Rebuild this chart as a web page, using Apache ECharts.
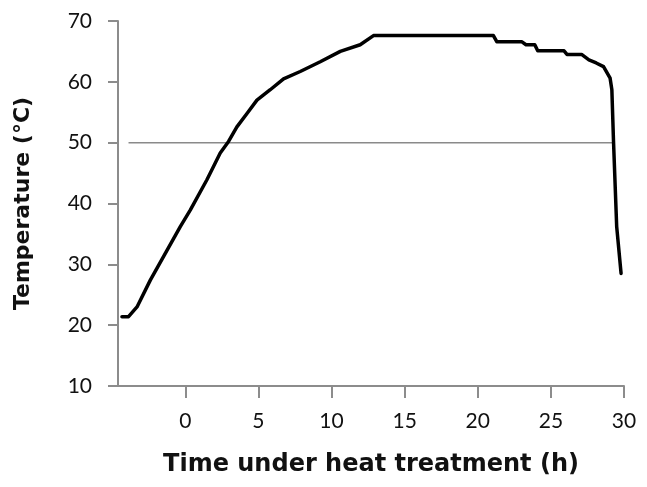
<!DOCTYPE html>
<html lang="en">
<head>
    <meta charset="UTF-8">
    <title>Temperature under heat treatment</title>
    <script src="https://cdn.jsdelivr.net/npm/echarts@6/dist/echarts.min.js"></script>
    <style>
        html,body{margin:0;padding:0;background:#fff}
        #main{width:647px;height:487px}
    </style>
</head>
<body>
<div id="main"></div>
<script>
    // time (h) and temperature (°C)
    var timeH = [-4.33, -3.88, -3.3, -2.39, -1.48, -0.34, 0.34, 1.48, 1.71, 2.39, 2.96, 3.53, 4.22, 4.9,
        5.81, 6.72, 7.86, 9.23, 10.6, 11.96, 12.87, 21.07, 21.3, 23.0, 23.3, 23.9, 24.1, 25.9,
        26.1, 27.1, 27.6, 28.1, 28.6, 29.05, 29.17, 29.28, 29.5, 29.8];
    var tempC = [21.4, 21.4, 23.0, 27.4, 31.3, 36.2, 38.9, 43.9, 45.0, 48.3, 50.2, 52.6, 54.8, 57.0,
        58.7, 60.5, 61.7, 63.3, 65.0, 66.1, 67.6, 67.6, 66.6, 66.6, 66.1, 66.1, 65.1, 65.1,
        64.5, 64.5, 63.6, 63.1, 62.5, 60.6, 58.7, 50.4, 36.2, 28.5];
    // reference level
    var refTime = [-3.88, 29.28];
    var refTemp = [50, 50];
    var xTicks = [0, 5, 10, 15, 20, 25, 30];

    var curve = [];
    for (var i = 0; i < timeH.length; i++) {
        curve.push([timeH[i], tempC[i]]);
    }
    var ref = [];
    for (var j = 0; j < refTime.length; j++) {
        ref.push([refTime[j], refTemp[j]]);
    }

    var axisGrey = '#8c8c8c';
    var ink = '#111';
    var myChart = echarts.init(document.getElementById('main'));
    myChart.setOption({
        animation: false,
        grid: {left: 118, right: 23, top: 21, bottom: 101},
        xAxis: {
            type: 'value',
            min: -4.6,
            max: 30,
            name: 'Time under heat treatment (h)',
            nameLocation: 'middle',
            nameGap: 67,
            nameTextStyle: {fontFamily: 'DejaVu Sans', fontWeight: 'bold', fontSize: 24, color: ink},
            axisLine: {onZero: false, lineStyle: {color: axisGrey, width: 2}},
            axisTick: {show: true, length: 12, lineStyle: {color: axisGrey, width: 2}, customValues: xTicks},
            axisLabel: {margin: 25, fontFamily: 'Lato', fontSize: 21, color: ink, customValues: xTicks},
            splitLine: {show: false}
        },
        yAxis: {
            type: 'value',
            min: 10,
            max: 70,
            interval: 10,
            name: 'Temperature (°C)',
            nameLocation: 'middle',
            nameGap: 84,
            nameTextStyle: {fontFamily: 'DejaVu Sans', fontWeight: 'bold', fontSize: 22, color: ink},
            axisLine: {show: true, onZero: false, lineStyle: {color: axisGrey, width: 2}},
            axisTick: {show: true, length: 10, lineStyle: {color: axisGrey, width: 2}},
            axisLabel: {margin: 26, fontFamily: 'Lato', fontSize: 21, color: ink},
            splitLine: {show: false}
        },
        series: [
            {
                type: 'line',
                data: ref,
                showSymbol: false,
                silent: true,
                z: 1,
                lineStyle: {color: '#8a8a8a', width: 1.5}
            },
            {
                type: 'line',
                data: curve,
                showSymbol: false,
                z: 2,
                lineStyle: {color: '#000', width: 3.5, join: 'round', cap: 'round'}
            }
        ]
    });
</script>
</body>
</html>
